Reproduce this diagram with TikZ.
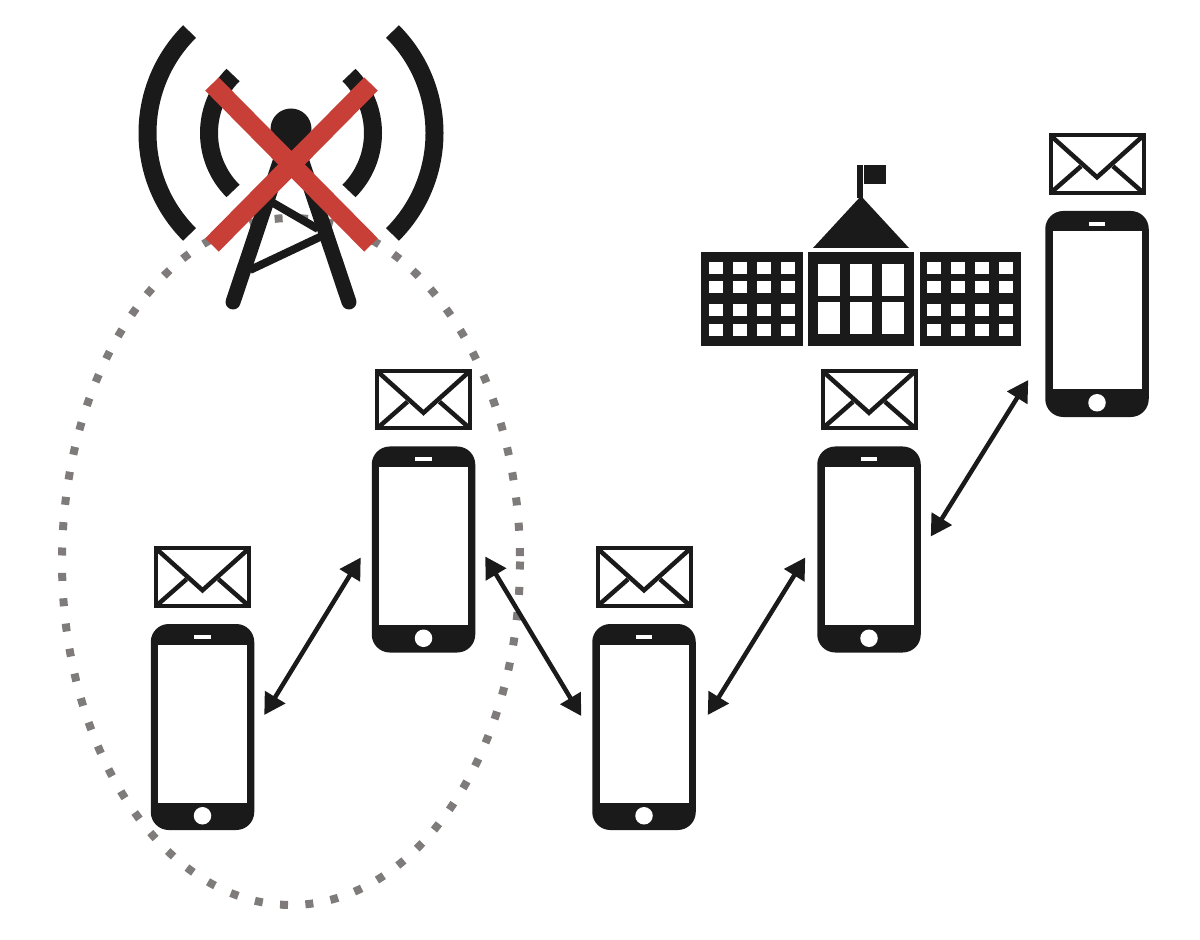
\documentclass[tikz,border=0pt]{standalone}
\usepackage{amsmath}
\usetikzlibrary{arrows.meta,positioning}

\definecolor{ink}{HTML}{1A1A1A}
\definecolor{cross}{HTML}{C83F37}
\definecolor{dots}{HTML}{7F7B7B}

\tikzset{
	phone/.style={fill=ink,rounded corners=3.6mm,minimum width=20.7mm,minimum height=41.2mm,inner sep=0,outer sep=0},
	screen/.style={fill=white,minimum width=17.8mm,minimum height=31.6mm,inner sep=0,outer sep=0},
	speaker/.style={fill=white,minimum width=3.3mm,minimum height=0.8mm,inner sep=0,outer sep=0},
	homekey/.style={circle,fill=white,minimum size=3.5mm,inner sep=0,outer sep=0},
	mail/.style={draw=ink,fill=white,line width=0.8mm,minimum width=18.6mm,minimum height=11.5mm,inner sep=0,outer sep=0},
	flap/.style={draw=ink,line width=0.9mm},
	wing/.style={fill=ink,minimum height=18.8mm,inner sep=0,outer sep=0},
	smallpane/.style={fill=white,minimum width=2.9mm,minimum height=2.5mm,inner sep=0,outer sep=0},
	bigpane/.style={fill=white,minimum width=4.3mm,minimum height=6.5mm,inner sep=0,outer sep=0},
	signal/.style={draw=ink,line width=3.6mm},
	mast/.style={draw=ink,line width=3mm,line cap=round,line join=round},
	brace/.style={draw=ink,line width=1.6mm},
	link/.style={draw=ink,line width=0.9mm,{Triangle[length=4.2mm,width=4.6mm]}-{Triangle[length=4.2mm,width=4.6mm]}}
}

\begin{document}
\begin{tikzpicture}[x=0.2mm,y=-0.2mm]
	\useasboundingbox (0,0) rectangle (1200,940);

	% coverage area
	\draw[dots,line width=1.6mm,dash pattern=on 1.6mm off 3.48mm] (291,561.5) ellipse (229 and 343.5);

	% tower
	\node[circle,fill=ink,minimum size=8.2mm,inner sep=0] (head) at (291,129) {};
	\coordinate (footl) at (233,302);
	\coordinate (footr) at (349,302);
	\draw[mast] (footl) -- (head.center) -- (footr);
	\draw[brace] (268,200) -- (318,229);
	\draw[brace] (250,270) -- (322,236);

	\coordinate (wave) at (291,133);
	\foreach \r in {82,143.5} {
		\draw[signal] (wave) ++(135:\r) arc[start angle=135,end angle=225,radius=\r];
		\draw[signal] (wave) ++(-45:\r) arc[start angle=-45,end angle=45,radius=\r];
	}

	% red cross
	\draw[cross,line width=3.8mm] (212,84) -- (371,245);
	\draw[cross,line width=3.8mm] (371,84) -- (212,245);

	% school
	\node[wing,minimum width=20.4mm] (left) at (752,299) {};
	\node[wing,minimum width=21.2mm] (middle) at (861,299) {};
	\node[wing,minimum width=20.2mm] (right) at (970.5,299) {};
	\foreach \x in {716,740,764,788,934,958,982,1006}
		\foreach \y in {268,287,310,330}
			\node[smallpane] (pane\x-\y) at (\x,\y) {};
	\foreach \x in {829,861,893}
		\foreach \y in {280,318}
			\node[bigpane] (pane\x-\y) at (\x,\y) {};
	\fill[ink] (861,196) -- (909,248) -- (813,248) -- cycle;
	\fill[ink] (857,165) rectangle (863,198);
	\fill[ink] (864,165) rectangle (886,184);

	% phones with their letters
	\foreach \name/\pos in {one/{202.5,727},two/{423.5,549.5},three/{644,727},four/{869,549.5},five/{1097,314}} {
		\node[phone] (\name) at (\pos) {};
		\node[screen,below=4.1mm of \name.north] (\name screen) {};
		\node[speaker,below=2.2mm of \name.north] (\name speaker) {};
		\node[homekey,above=1.1mm of \name.south] (\name key) {};
		\node[mail,above=3.6mm of \name.north] (\name mail) {};
		\draw[flap] (\name mail.north west) -- ([shift={(0,13)}]\name mail.center) -- (\name mail.north east);
		\draw[flap] (\name mail.south west) -- ([shift={(-16,2)}]\name mail.center);
		\draw[flap] (\name mail.south east) -- ([shift={(16,2)}]\name mail.center);
	}

	% links
	\draw[link] ([shift={(10,-12)}]one.east) -- ([shift={(-11,8)}]two.west);
	\draw[link] ([shift={(10,7)}]two.east) -- ([shift={(-11,-11)}]three.west);
	\draw[link] ([shift={(12,-12)}]three.east) -- ([shift={(-12,8)}]four.west);
	\draw[link] ([shift={(10,-13)}]four.east) -- ([shift={(-17,66)}]five.west);
\end{tikzpicture}
\end{document}
